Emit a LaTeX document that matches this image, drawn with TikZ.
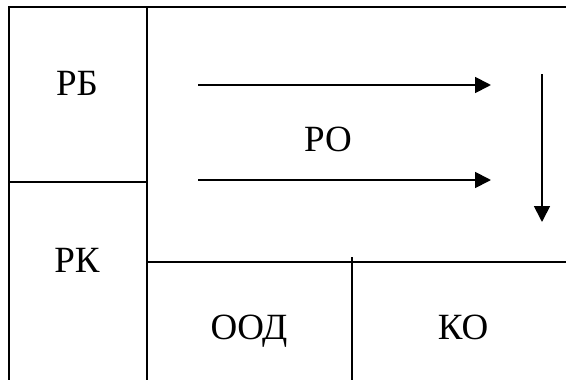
\documentclass[tikz,border=0pt]{standalone}
\usepackage{fontspec}
\setmainfont{Liberation Serif}
\usetikzlibrary{arrows.meta}
\begin{document}
\begin{tikzpicture}[x=1pt,y=-1pt,
  frame/.style={line width=1.8pt},
  flow/.style={line width=1.8pt,-{Triangle[length=16pt,width=16pt]}},
  lbl/.style={anchor=base,inner sep=0pt,font=\fontsize{37}{42}\selectfont}]
\useasboundingbox (0,0) rectangle (566,380);
% frame lines
\draw[frame] (9,380) -- (9,7) -- (566,7);
\draw[frame] (147,7) -- (147,380);
\draw[line width=2.6pt] (9,182) -- (147,182);
\draw[frame] (147,262) -- (566,262);
\draw[frame] (352,257) -- (352,380);
% labels
\node[lbl] (rb) at (77,95) {РБ};
\node[lbl] (rk) at (77,272) {РК};
\node[lbl] (ro) at (328,151) {РО};
\node[lbl] (ood) at (249,339) {ООД};
\node[lbl] (ko) at (463,339) {КО};
% arrows
\coordinate (a1s) at (198,85);
\coordinate (a1e) at (491,85);
\coordinate (a2s) at (198,180);
\coordinate (a2e) at (491,180);
\coordinate (a3s) at (542,74);
\coordinate (a3e) at (542,222);
\draw[flow] (a1s) -- (a1e);
\draw[flow] (a2s) -- (a2e);
\draw[flow] (a3s) -- (a3e);
\end{tikzpicture}
\end{document}
